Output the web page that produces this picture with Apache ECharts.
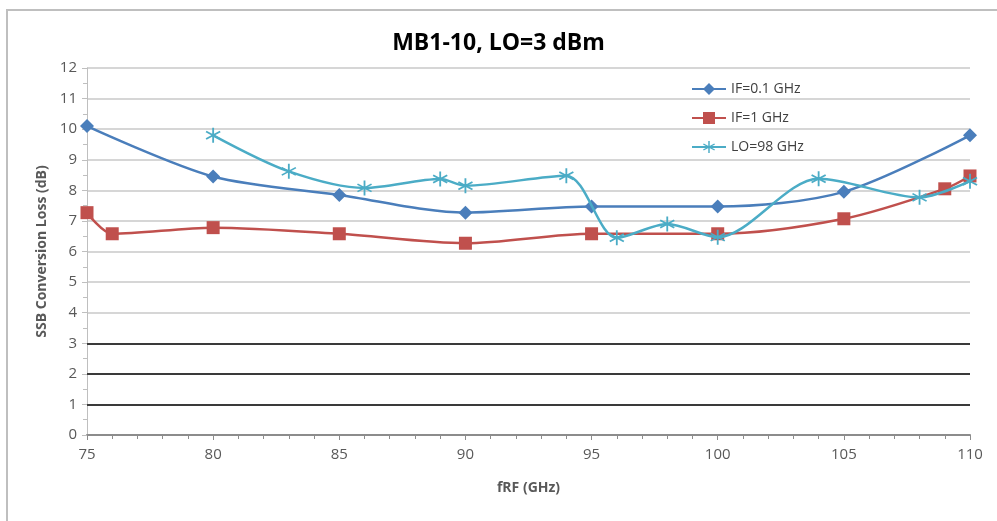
<!DOCTYPE html>
<html>
<head>
<meta charset="utf-8">
<script src="https://cdn.jsdelivr.net/npm/echarts@6/dist/echarts.min.js"></script>
<style>
  html, body { margin: 0; padding: 0; background: #fff; }
  #main { width: 997px; height: 521px; }
</style>
</head>
<body>
<div id="main"></div>
<script>
// values
var ifLowX = [75, 80, 85, 90, 95, 100, 105, 110];
var ifLowY = [10.1, 8.45, 7.85, 7.27, 7.47, 7.47, 7.95, 9.8];
var ifHighX = [75, 76, 80, 85, 90, 95, 100, 105, 109, 110];
var ifHighY = [7.27, 6.58, 6.78, 6.58, 6.27, 6.58, 6.58, 7.07, 8.05, 8.47];
var loX = [80, 83, 86, 89, 90, 94, 96, 98, 100, 104, 108, 110];
var loY = [9.8, 8.62, 8.08, 8.37, 8.15, 8.48, 6.45, 6.9, 6.47, 8.38, 7.77, 8.3];
var names = ['IF=0.1 GHz', 'IF=1 GHz', 'LO=98 GHz'];
var darkLines = [1, 2, 3];

function pairs(xs, ys) {
    var out = [];
    for (var i = 0; i < xs.length; i++) out.push([xs[i], ys[i]]);
    return out;
}

// asterisk marker like excel
var star = 'path://M-0.9,-8 L0.9,-8 L0.9,8 L-0.9,8 Z ' +
    'M-7.38,-3.22 L-6.48,-4.78 L7.38,3.22 L6.48,4.78 Z ' +
    'M-6.48,4.78 L-7.38,3.22 L6.48,-4.78 L7.38,-3.22 Z';

var font = '"Open Sans", "Liberation Sans", sans-serif';
var myChart = echarts.init(document.getElementById('main'));
myChart.setOption({
    animation: false,
    textStyle: {fontFamily: font},
    title: {
        text: 'MB1-10, LO=3 dBm',
        left: 'center',
        top: 27,
        textStyle: {fontSize: 23, fontWeight: 'bold', color: '#000', fontFamily: font}
    },
    graphic: [{
        type: 'rect',
        shape: {x: 7, y: 10, width: 1000, height: 530},
        style: {fill: 'none', stroke: '#bfbfbf', lineWidth: 2},
        silent: true,
        z: -1
    }],
    legend: {
        data: names,
        orient: 'vertical',
        left: 686,
        top: 77,
        itemGap: 15,
        itemWidth: 34,
        itemHeight: 15,
        textStyle: {fontSize: 14, color: '#404040', fontFamily: font}
    },
    grid: {left: 87, right: 27, top: 68, bottom: 86},
    xAxis: {
        type: 'value',
        min: 75,
        max: 110,
        interval: 5,
        name: 'fRF (GHz)',
        nameLocation: 'middle',
        nameGap: 46,
        nameTextStyle: {fontSize: 14, color: '#595959', fontWeight: 'bold'},
        axisLine: {lineStyle: {color: '#8c8c8c', width: 2}},
        axisTick: {show: true, length: 5, lineStyle: {color: '#8c8c8c'}},
        minorTick: {show: true, splitNumber: 5, length: 4, lineStyle: {color: '#8c8c8c'}},
        axisLabel: {fontSize: 15, color: '#595959', margin: 12},
        splitLine: {show: false}
    },
    yAxis: {
        type: 'value',
        min: 0,
        max: 12,
        interval: 1,
        name: 'SSB Conversion Loss (dB)',
        nameLocation: 'middle',
        nameGap: 38,
        nameTextStyle: {fontSize: 14, color: '#595959', fontWeight: 'bold'},
        axisLine: {show: true, lineStyle: {color: '#bfbfbf'}},
        axisTick: {show: true, length: 5, lineStyle: {color: '#bfbfbf'}},
        minorTick: {show: true, splitNumber: 2, length: 4, lineStyle: {color: '#bfbfbf'}},
        axisLabel: {fontSize: 15, color: '#595959', margin: 10},
        splitLine: {lineStyle: {color: '#c8c8c8', width: 1.5}}
    },
    series: [
        {
            name: names[0],
            type: 'line',
            smooth: 0.3,
            data: pairs(ifLowX, ifLowY),
            symbol: 'diamond',
            symbolSize: 14,
            itemStyle: {color: '#4a7ebb'},
            lineStyle: {width: 2.5, color: '#4a7ebb'},
            z: 3,
            markLine: {
                silent: true,
                symbol: 'none',
                label: {show: false},
                lineStyle: {color: '#3a3a3a', width: 2, type: 'solid'},
                data: darkLines.map(function (v) { return {yAxis: v}; })
            }
        },
        {
            name: names[1],
            type: 'line',
            smooth: 0.3,
            data: pairs(ifHighX, ifHighY),
            symbol: 'rect',
            symbolSize: 13,
            itemStyle: {color: '#c0504d'},
            lineStyle: {width: 2.5, color: '#c0504d'},
            z: 2
        },
        {
            name: names[2],
            type: 'line',
            smooth: 0.3,
            data: pairs(loX, loY),
            symbol: star,
            symbolSize: 15,
            itemStyle: {color: '#4bacc6'},
            lineStyle: {width: 2.5, color: '#4bacc6'},
            z: 4
        }
    ]
});
</script>
</body>
</html>
